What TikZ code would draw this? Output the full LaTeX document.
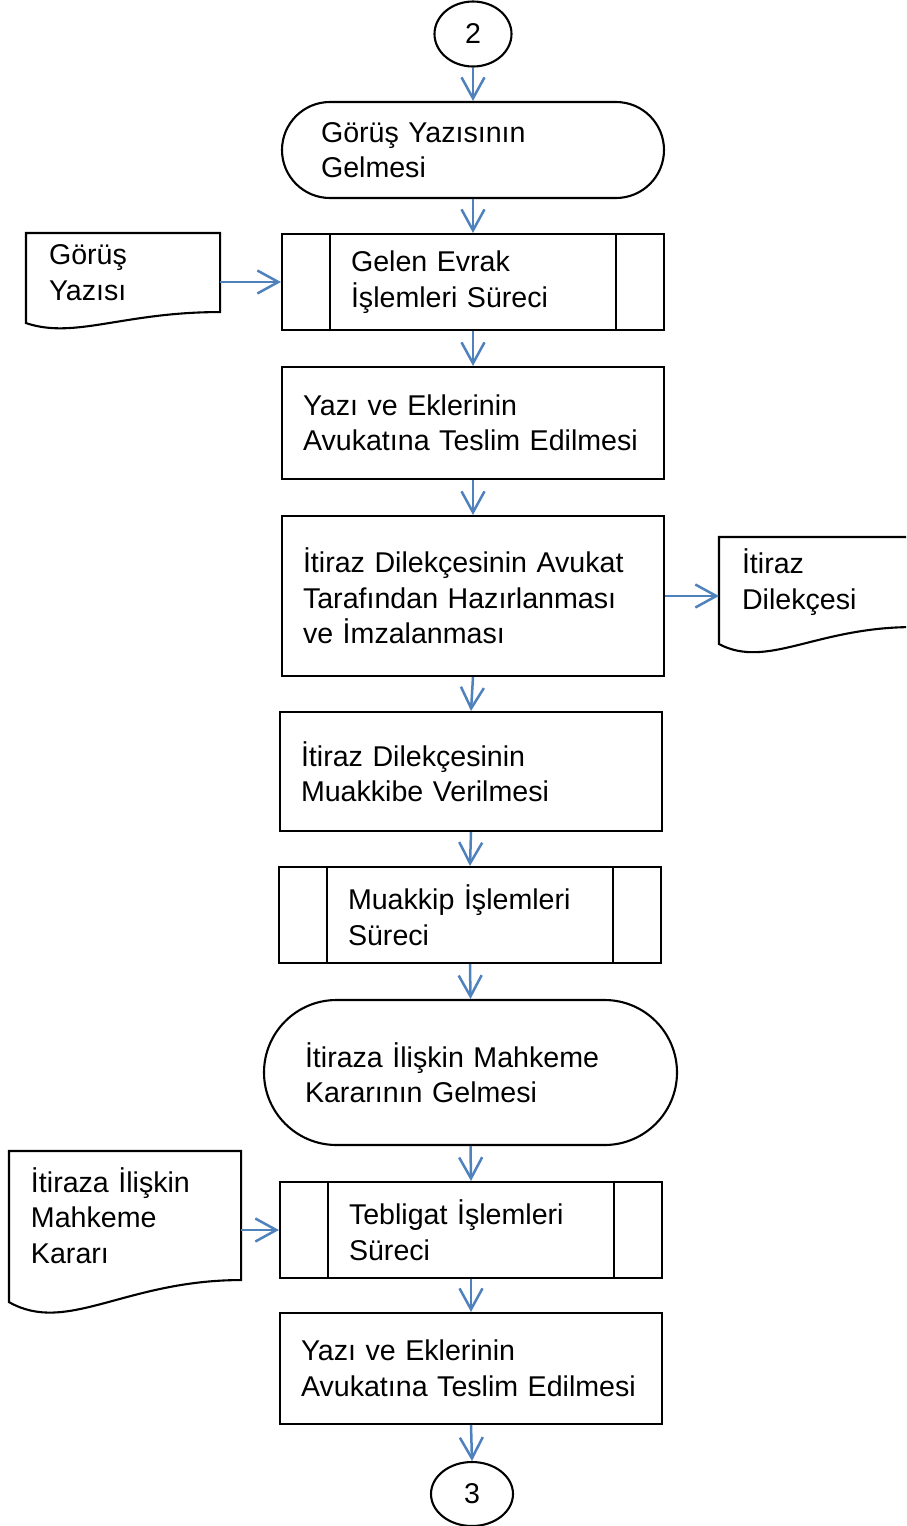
\documentclass[tikz,border=0pt]{standalone}
\usepackage{fontspec}
\setmainfont{Liberation Sans}
\usetikzlibrary{shapes.geometric,arrows.meta,calc}
\definecolor{flowblue}{RGB}{79,129,189}
% document shape: #1 node, #2 drop of the lower left corner
\newcommand\docwave[2]{%
  \draw (#1.north west) -- ([yshift=-#2]#1.south west)
    .. controls ($(#1.south west)!0.25!(#1.south east)+(0pt,-2.5*#2)$) and ($(#1.south west)!0.5!(#1.south east)$) .. (#1.south east)
    -- (#1.north east) -- cycle;}
\begin{document}
\begin{tikzpicture}
[x=0.5pt, y=-0.5pt, line width=1.05pt,
 every node/.style={font=\fontsize{14.3}{17.75}\selectfont, align=left, inner ysep=0pt},
 conn/.style={draw, ellipse, inner sep=0pt, align=center},
 term/.style={draw, rectangle, rounded corners=24pt, minimum height=48pt, inner xsep=19.5pt, text width=152pt},
 proc/.style={draw, rectangle, inner xsep=10.5pt, text width=170pt},
 subproc/.style={draw, rectangle, minimum height=48pt, inner xsep=34.5pt, text width=122pt,
   path picture={\draw ([xshift=24pt]path picture bounding box.north west) -- ([xshift=24pt]path picture bounding box.south west)
     ([xshift=-24pt]path picture bounding box.north east) -- ([xshift=-24pt]path picture bounding box.south east);}},
 docbox/.style={rectangle, inner xsep=11pt, text width=74pt},
 flow/.style={draw=flowblue, line width=1.25pt, -{Straight Barb[length=10.5pt,width=11.5pt]}}]
\clip (0,0) rectangle (906,1526);

\node (c2) at (473,34) [conn, minimum width=38.5pt, minimum height=32.5pt] {2};
\node (t1) at (473,150) [term] {Görüş Yazısının\\Gelmesi};
\node (gek) at (473,282) [subproc] {Gelen Evrak\\İşlemleri Süreci};
\node (gy) at (123,272.5) [docbox, minimum height=38.5pt] {Görüş\\Yazısı};
\node (yve1) at (473,423) [proc, minimum height=56pt] {Yazı ve Eklerinin\\Avukatına Teslim Edilmesi};
\node (itd) at (473,596) [proc, minimum height=80pt] {İtiraz Dilekçesinin Avukat\\Tarafından Hazırlanması\\ve İmzalanması};
\node (itdoc) at (816,582) [docbox, minimum height=44pt] {İtiraz\\Dilekçesi};
\node (idm) at (471,771.5) [proc, minimum height=59.5pt] {İtiraz Dilekçesinin\\Muakkibe Verilmesi};
\node (mis) at (470,915) [subproc] {Muakkip İşlemleri\\Süreci};
\node (ikg) at (470.5,1072.5) [term, rounded corners=36.25pt, minimum height=72.5pt, inner xsep=20.5pt, text width=165.5pt] {İtiraza İlişkin Mahkeme\\Kararının Gelmesi};
\node (tis) at (471,1230) [subproc] {Tebligat İşlemleri\\Süreci};
\node (ikk) at (125,1215.5) [docbox, minimum height=63.5pt, inner xsep=10.5pt, text width=94pt] {İtiraza İlişkin\\Mahkeme\\Kararı};
\node (yve2) at (471,1368.5) [proc, minimum height=55.5pt] {Yazı ve Eklerinin\\Avukatına Teslim Edilmesi};
\node (c3) at (472,1494) [conn, minimum width=41pt, minimum height=32pt] {3};

\docwave{gy}{5.5pt}
\docwave{itdoc}{8.5pt}
\docwave{ikk}{11pt}

\draw [flow] (c2.south) -- (t1.north);
\draw [flow] (t1.south) -- (gek.north);
\draw [flow] (gek.south) -- (yve1.north);
\draw [flow] (yve1.south) -- (itd.north);
\draw [flow] (itd.south) -- (idm.north);
\draw [flow] (idm.south) -- (mis.north);
\draw [flow] (mis.south) -- (ikg.north);
\draw [flow] (ikg.south) -- (tis.north);
\draw [flow] (tis.south) -- (yve2.north);
\draw [flow] (yve2.south) -- (c3.north);
\draw [flow] (gy.east |- gek.west) -- (gek.west);
\draw [flow] (itd.east) -- (itd.east -| itdoc.west);
\draw [flow] (ikk.east |- tis.west) -- (tis.west);
\end{tikzpicture}
\end{document}
